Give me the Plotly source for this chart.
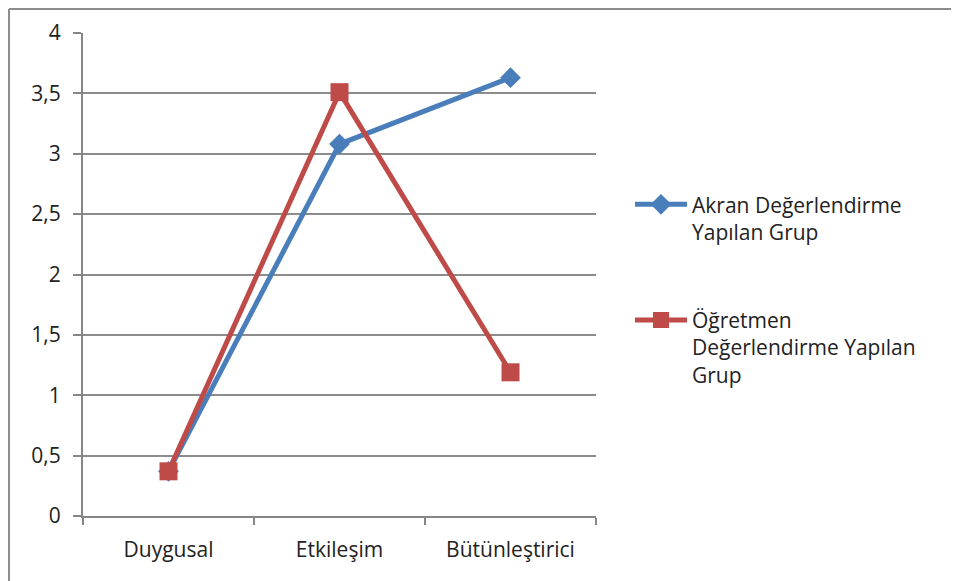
import plotly.graph_objects as go

categories = ["Duygusal", "Etkileşim", "Bütünleştirici"]
akran = [0.37, 3.08, 3.63]
ogretmen = [0.37, 3.51, 1.19]
series_names = ["Akran Değerlendirme<br>Yapılan Grup", "Öğretmen<br>Değerlendirme Yapılan<br>Grup"]
y_ticks = [0, 0.5, 1, 1.5, 2, 2.5, 3, 3.5, 4]
y_labels = ["0", "0,5", "1", "1,5", "2", "2,5", "3", "3,5", "4"]

# the page adds an 8px body margin, so figure coords = screen coords - 8
W, H = 951, 573
L, R, T, B = 75, 588, 25, 508

FONT = "Open Sans"
TXT = "#222222"
FS = 21

fig = go.Figure()
fig.add_trace(go.Scatter(
    x=categories, y=akran, name=series_names[0], mode="lines+markers",
    line=dict(color="#4A7EBB", width=5),
    marker=dict(symbol="diamond", size=16, color="#4A7EBB"),
    legendgroup="a",
))
fig.add_trace(go.Scatter(
    x=categories, y=ogretmen, name=series_names[1], mode="lines+markers",
    line=dict(color="#BE4B48", width=5),
    marker=dict(symbol="square", size=18, color="#BE4B48"),
    legendgroup="b",
))

fig.update_layout(
    width=W, height=H,
    margin=dict(l=L, r=W - R, t=T, b=H - B, autoexpand=False),
    paper_bgcolor="white", plot_bgcolor="white",
    font=dict(family=FONT, size=FS, color=TXT),
    showlegend=True,
    legend=dict(
        x=(622 - L) / (R - L), xanchor="left", y=0.687, yanchor="top",
        valign="top", traceorder="grouped", tracegroupgap=58,
        font=dict(family=FONT, size=FS, color=TXT),
        bgcolor="rgba(0,0,0,0)", itemwidth=52,
    ),
    xaxis=dict(
        type="category", range=[-0.5, 2.5], tickson="boundaries",
        showgrid=False, showline=True, linecolor="#868686", linewidth=2,
        ticks="outside", ticklen=7, tickcolor="#868686", tickwidth=2,
        tickfont=dict(family=FONT, size=FS, color=TXT), ticklabelstandoff=14,
        fixedrange=True,
    ),
    yaxis=dict(
        range=[0, 4], tickmode="array", tickvals=y_ticks, ticktext=y_labels,
        showgrid=True, gridcolor="#8C8C8C", gridwidth=2,
        showline=True, linecolor="#868686", linewidth=2,
        ticks="outside", ticklen=8, tickcolor="#868686", tickwidth=2,
        tickfont=dict(family=FONT, size=FS, color=TXT), ticklabelstandoff=8,
        zeroline=False, fixedrange=True,
    ),
)

# outer chart frame (top and left edges visible)
fx0 = (1 - L) / (R - L)
fx1 = (W - L) / (R - L)
fy_top = (B - 1) / (B - T)
fy_bot = (B - H) / (B - T)
fig.add_shape(type="line", xref="paper", yref="paper",
              x0=fx0, x1=fx1, y0=fy_top, y1=fy_top,
              line=dict(color="#8C8C8C", width=2))
fig.add_shape(type="line", xref="paper", yref="paper",
              x0=fx0, x1=fx0, y0=fy_top, y1=fy_bot,
              line=dict(color="#8C8C8C", width=2))

fig.write_html("out.html")
